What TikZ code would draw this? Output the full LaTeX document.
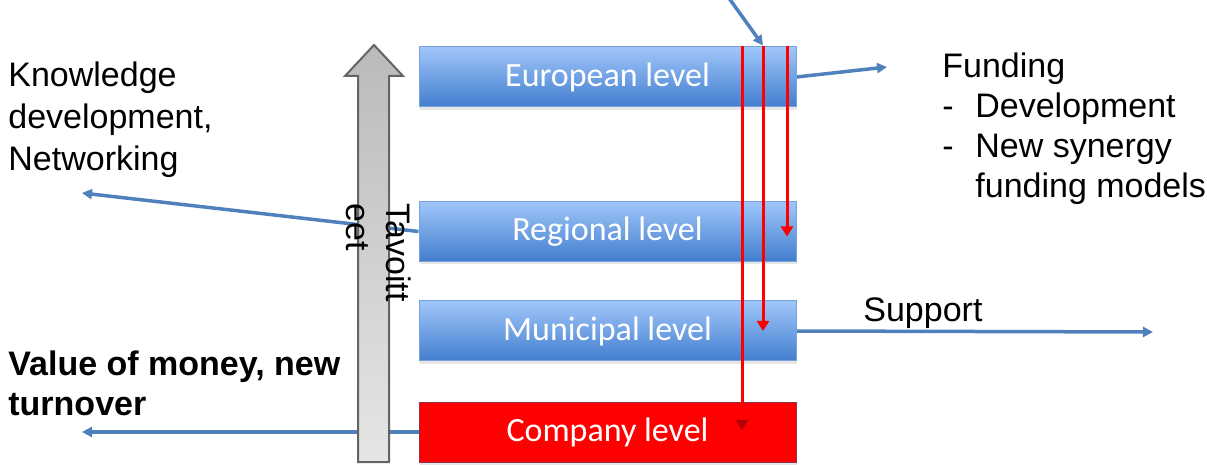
\documentclass[tikz,border=0pt]{standalone}
\usepackage{fontspec}
\setmainfont{Liberation Sans}
\newfontfamily\boxfont{Carlito}
\usetikzlibrary{arrows.meta, backgrounds, shadows}
\definecolor{flowblue}{RGB}{79,129,189}
\definecolor{leveltop}{RGB}{160,198,250}
\definecolor{levelbottom}{RGB}{66,126,206}
\definecolor{levelline}{RGB}{120,160,220}
\definecolor{companyline}{RGB}{140,50,80}
\definecolor{goalline}{RGB}{100,100,100}

\tikzset{
  levelbase/.style={minimum width=188.5pt, minimum height=30pt, inner sep=0pt, line width=0.5pt,
    font=\boxfont\fontsize{17}{20}\selectfont, text=white,
    drop shadow={opacity=0.2, shadow xshift=0.5pt, shadow yshift=-1.5pt}},
  levelbox/.style={levelbase, draw=levelline, top color=leveltop, bottom color=levelbottom},
  companybox/.style={levelbase, draw=companyline, fill=red},
  flowarrow/.style={draw=flowblue, line width=1.75pt, -{Triangle[length=5pt,width=5pt]}},
  redarrow/.style={draw=red, line width=1.5pt, -{Triangle[length=5pt,width=6pt]}},
  note/.style={anchor=north west, inner sep=0pt, align=left, font=\fontsize{17}{20}\selectfont},
}

\begin{document}
\begin{tikzpicture}[x=0.5pt, y=-0.5pt]
  \useasboundingbox (0,0) rectangle (1207,465);

  % levels
  \node[levelbox] (european) at (607.5,77) {European level};
  \node[levelbox] (regional) at (607.5,231.5) {Regional level};
  \node[levelbox] (municipal) at (607.5,331) {Municipal level};
  \node[companybox] (company) at (607.5,432) {Company level};

  % free ends
  \coordinate (fundtip) at (887,67);
  \coordinate (knowtip) at (82,193);
  \coordinate (valuetip) at (82,432);
  \coordinate (supporttip) at (1153,332);
  \coordinate (topstart) at (726,-6);
  \coordinate (ra) at (742,0);
  \coordinate (rb) at (763,0);
  \coordinate (rc) at (787,0);

  \begin{scope}[on background layer]
    \draw[flowarrow] (european.east) -- (fundtip);
    \draw[flowarrow] (regional.west) -- (knowtip);
    \draw[flowarrow] (company.west) -- (valuetip);
    \draw[flowarrow] (municipal.east) -- (supporttip);
  \end{scope}
  \draw[flowarrow] (topstart) -- ([yshift=0.5pt]rb |- european.north);

  % goal arrow
  \draw[goalline, line width=1pt, top color=black!27, bottom color=black!10]
    (358,462) -- (358,76) -- (345,76) -- (374,45) -- (403,76) -- (389,76) -- (389,462) -- cycle;
  \node[note, rotate=-90] (goal) at (412,203) {Tavoitt\\eet};

  % red arrows
  \draw[redarrow, -{Triangle[length=5pt,width=6pt,color=red!70!black]}]
    (ra |- european.north) -- ([yshift=1pt]ra |- company.center);
  \draw[redarrow] (rb |- european.north) -- (rb |- municipal.center);
  \draw[redarrow] (rc |- european.north) -- ([yshift=-2.5pt]rc |- regional.center);

  % texts
  \node[note, font=\fontsize{17}{21}\selectfont] (knowledge) at (8,61) {Knowledge\\development,\\Networking};
  \node[note, font=\bfseries\fontsize{17}{20}\selectfont] (value) at (8,350) {Value of money, new\\turnover};
  \node[note] (funding) at (942,52) {Funding\\\makebox[16.5pt][l]{-}Development\\\makebox[16.5pt][l]{-}New synergy\\\hspace*{16.5pt}funding models};
  \node[note] (support) at (863,297) {Support};
\end{tikzpicture}
\end{document}
